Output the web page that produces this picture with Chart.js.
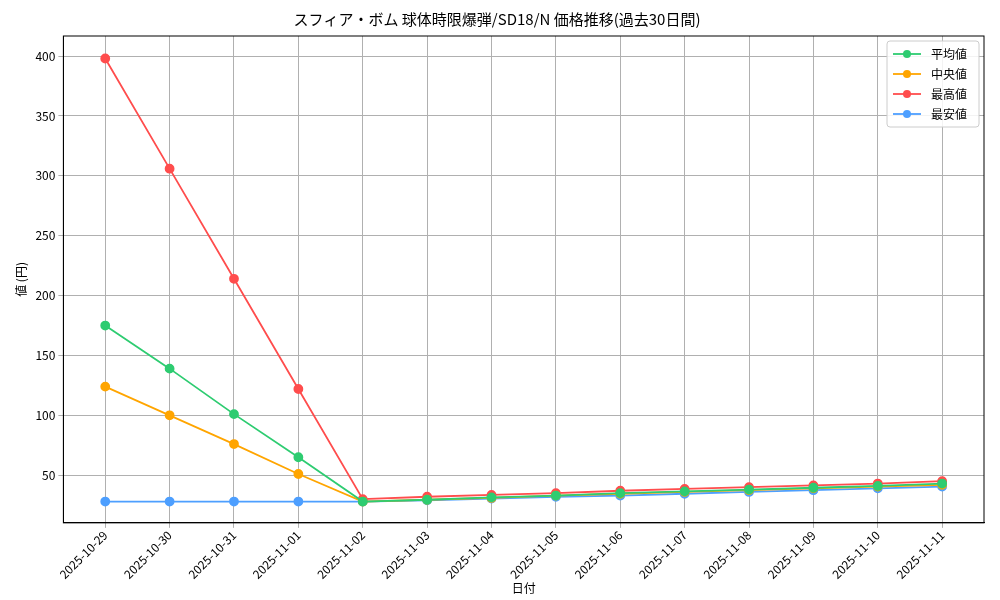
<!DOCTYPE html>
<html><head><meta charset="utf-8">
<script src="https://cdn.jsdelivr.net/npm/chart.js@4"></script>
<style>body{margin:0;background:#fff}#wrap{width:1000px;height:600px}</style>
</head><body><div id="wrap"><canvas id="c"></canvas></div>
<script>
const dates = ["2025-10-29","2025-10-30","2025-10-31","2025-11-01","2025-11-02","2025-11-03","2025-11-04","2025-11-05","2025-11-06","2025-11-07","2025-11-08","2025-11-09","2025-11-10","2025-11-11"];
const avgVals = [175, 139, 101, 65, 28, 29.5, 31.5, 33, 35, 36.5, 38, 39.5, 41, 43];
const medVals = [124, 100, 76, 51, 28, 29.5, 31, 33, 34.5, 36, 37.5, 39, 40.5, 42];
const maxVals = [398, 306, 214, 122, 30, 32, 33.5, 35, 37, 38.5, 40, 41.5, 43, 45];
const minVals = [28, 28, 28, 28, 28, 29, 30.5, 32, 33, 34.5, 36, 37.5, 39, 40.5];
const names = ["平均値", "中央値", "最高値", "最安値"];
const colors = ["#2ecc71", "#ffa500", "#ff4d4d", "#4d9fff"];
const FONT = "'Noto Sans CJK JP', 'DejaVu Sans Mono', monospace";

const series = [avgVals, medVals, maxVals, minVals];
const datasets = series.map((vals, i) => ({
  label: names[i],
  data: vals.map((v, j) => ({ x: j, y: v })),
  borderColor: colors[i], backgroundColor: colors[i],
  borderWidth: 1.8, pointRadius: 4, pointHoverRadius: 4
}));

// frame around plot + legend box inside, upper right
const legendBox = {
  id: "legendBox",
  afterDraw(chart) {
    const ctx = chart.ctx, a = chart.chartArea;
    ctx.save();
    ctx.strokeStyle = "#000"; ctx.lineWidth = 1;
    ctx.strokeRect(a.left, a.top, a.right - a.left, a.bottom - a.top);
    const w = 92, h = 86, x = a.right - w - 5, y = a.top + 5;
    ctx.fillStyle = "rgba(255,255,255,0.85)";
    ctx.strokeStyle = "#ccc";
    ctx.beginPath(); ctx.roundRect(x, y, w, h, 3); ctx.fill(); ctx.stroke();
    ctx.font = "12px " + FONT;
    ctx.textBaseline = "middle";
    names.forEach((n, i) => {
      const ly = y + 13 + i * 20;
      ctx.strokeStyle = colors[i]; ctx.lineWidth = 1.8;
      ctx.beginPath(); ctx.moveTo(x + 6, ly); ctx.lineTo(x + 34, ly); ctx.stroke();
      ctx.fillStyle = colors[i];
      ctx.beginPath(); ctx.arc(x + 20, ly, 4, 0, Math.PI * 2); ctx.fill();
      ctx.fillStyle = "#000";
      ctx.fillText(n, x + 44, ly);
    });
    ctx.restore();
  }
};

new Chart(document.getElementById("c"), {
  type: "line",
  data: { datasets },
  options: {
    responsive: true, maintainAspectRatio: false, animation: false,
    layout: { padding: { left: 10, right: 16, top: 4, bottom: 0 } },
    plugins: {
      legend: { display: false },
      tooltip: { enabled: false },
      title: { display: true, text: "スフィア・ボム 球体時限爆弾/SD18/N 価格推移(過去30日間)", color: "#000",
        font: { family: FONT, size: 15, weight: "normal" }, padding: { top: 6, bottom: 8 } }
    },
    scales: {
      x: {
        type: "linear", min: -0.65, max: 13.65,
        afterBuildTicks(s) { s.ticks = dates.map((d, i) => ({ value: i })); },
        ticks: { callback: v => dates[v], maxRotation: 45, minRotation: 45, color: "#000", font: { family: FONT, size: 12 }, padding: 0 },
        grid: { color: "#b0b0b0", drawTicks: true, tickLength: 5 },
        border: { color: "#000" },
        title: { display: true, text: "日付", color: "#000", font: { family: FONT, size: 12 }, padding: { top: 0, bottom: 4 } }
      },
      y: {
        min: 10.2, max: 416.8,
        afterBuildTicks(s) { s.ticks = [50,100,150,200,250,300,350,400].map(v => ({ value: v })); },
        ticks: { color: "#000", font: { family: FONT, size: 12 } },
        grid: { color: "#b0b0b0", tickLength: 5 },
        border: { color: "#000" },
        title: { display: true, text: "値 (円)", color: "#000", font: { family: FONT, size: 12 } }
      }
    }
  },
  plugins: [legendBox]
});
</script></body></html>
